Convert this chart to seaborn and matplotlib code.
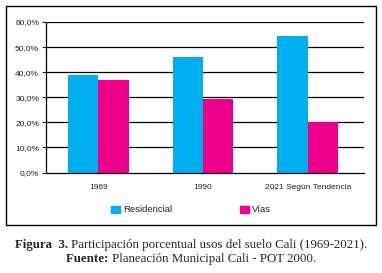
import matplotlib
matplotlib.use("Agg")
import matplotlib.pyplot as plt
import matplotlib.patches as mpatches
import seaborn as sns
import pandas as pd

categories = ["1969", "1990", "2021 Según Tendencia"]
residencial = [39.0, 46.0, 54.5]
vias = [37.0, 29.5, 20.0]
series_names = ["Residencial", "Vías"]
colors = ["#00AEEF", "#EC008C"]
yticks = [0, 10, 20, 30, 40, 50, 60]

df = pd.DataFrame({
    "cat": categories * 2,
    "val": residencial + vias,
    "serie": [series_names[0]] * 3 + [series_names[1]] * 3,
})

sns.set_style("white")
plt.rcParams["font.family"] = ["Liberation Sans", "DejaVu Sans"]

W, H = 382, 273
fig = plt.figure(figsize=(W / 100, H / 100), dpi=100)

# outer frame
fig.patches.append(mpatches.Rectangle((6 / W, 1 - 225 / H), 370 / W, 219 / H,
                                      transform=fig.transFigure, fill=False,
                                      edgecolor="black", linewidth=1.0))

ax = fig.add_axes([46 / W, 1 - 172.5 / H, 318 / W, 150.5 / H])
sns.barplot(data=df, x="cat", y="val", hue="serie", palette=colors,
            width=0.58, ax=ax, saturation=1, legend=False, edgecolor="none")

ax.set_xlim(-0.5, 2.5 + 4 / 105)
ax.set_ylim(0, 60)
ax.set_yticks(yticks)
ax.set_yticklabels([f"{v:.1f}%".replace(".", ",") for v in yticks], fontsize=6, color="#222222")
ax.set_xlabel("")
ax.set_ylabel("")
ax.tick_params(axis="x", length=0, labelsize=6, pad=8, labelcolor="#222222")
ax.tick_params(axis="y", length=3, width=0.8, pad=2, left=True)
for v in yticks[1:]:
    ax.axhline(v, color="black", linewidth=0.9, zorder=0)
for s in ["top", "right"]:
    ax.spines[s].set_visible(False)
ax.spines["left"].set_color("black")
ax.spines["left"].set_linewidth(0.9)
ax.spines["bottom"].set_color("black")
ax.spines["bottom"].set_linewidth(0.9)

handles = [mpatches.Patch(color=c, label=n) for c, n in zip(colors, series_names)]
fig.legend(handles=handles, ncol=2, loc="center", bbox_to_anchor=(191 / W, 1 - 210 / H),
           frameon=False, fontsize=6.8, handlelength=1.0, handleheight=0.75,
           handletextpad=0.35, columnspacing=7.1, labelcolor="#222222")

# caption with mixed bold/regular
fig.canvas.draw()
renderer = fig.canvas.get_renderer()

def mixed_line(parts, y, size=9.3):
    texts = []
    total = 0
    for s, w in parts:
        t = fig.text(0, y, s, fontsize=size, fontweight=w, family="Liberation Serif",
                     va="center", ha="left")
        bb = t.get_window_extent(renderer)
        texts.append((t, bb.width))
        total += bb.width
    x = (W - total) / 2
    for t, wd in texts:
        t.set_x(x / W)
        x += wd

mixed_line([("Figura  3. ", "bold"), ("Participación porcentual usos del suelo Cali (1969-2021).", "normal")],
           1 - 245 / H)
mixed_line([("Fuente: ", "bold"), ("Planeación Municipal Cali - POT 2000.", "normal")],
           1 - 259 / H)

fig.savefig("out.png", dpi=100)
